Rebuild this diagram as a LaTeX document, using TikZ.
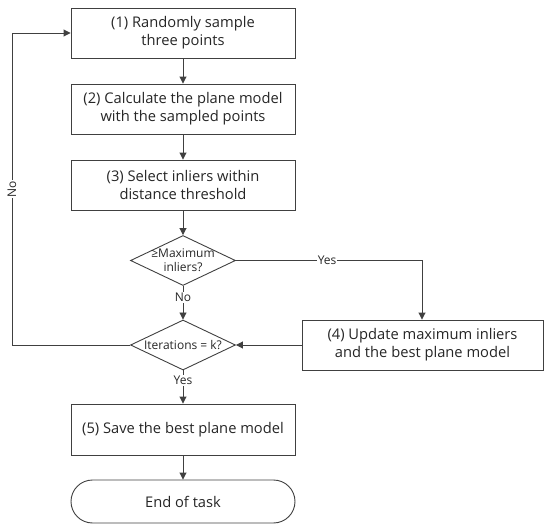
\documentclass[tikz,border=0pt]{standalone}
\usepackage{fontspec}
\setmainfont{Open Sans}
\usetikzlibrary{shapes.geometric,shapes.misc,arrows.meta}
\begin{document}
\begin{tikzpicture}[x=1pt,y=-1pt,
  every node/.style={font=\fontsize{14.7}{18}\selectfont, text=black!85},
  box/.style={draw=black!75, line width=0.9pt, minimum width=224pt, minimum height=50pt, align=center, inner sep=0pt},
  dec/.style={draw=black!75, line width=0.9pt, diamond, aspect=2.1, minimum width=105pt, minimum height=50pt, inner sep=0pt},
  dectext/.style={font=\fontsize{12}{14}\selectfont, align=center, inner sep=0pt},
  term/.style={draw=black!75, line width=0.9pt, rounded rectangle, minimum width=224pt, minimum height=43pt, inner sep=0pt},
  lbl/.style={font=\fontsize{12}{13}\selectfont, fill=white, inner sep=1pt},
  conn/.style={draw=black!75, line width=0.9pt, -{Triangle[length=7pt,width=7pt]}}
]
\useasboundingbox (0,0) rectangle (550,530);
\node[box] (b1) at (183,33) {(1) Randomly sample\\three points};
\node[box] (b2) at (183,109) {(2) Calculate the plane model\\with the sampled points};
\node[box] (b3) at (183,185) {(3) Select inliers within\\distance threshold};
\node[dec] (d1) at (183,260.5) {};
\node[dectext] (d1t) at (d1.center) {≥Maximum\\inliers?};
\node[dec] (d2) at (183,345) {};
\node[dectext] (d2t) at (d2.center) {Iterations = k?};
\node[box, minimum width=241pt] (b4) at (422.5,345) {(4) Update maximum inliers\\and the best plane model};
\node[box, minimum height=51pt] (b5) at (183,429.5) {(5) Save the best plane model};
\node[term] (e) at (183,501.5) {End of task};
\coordinate (c1) at (12,345);
\coordinate (c2) at (12,33);
\coordinate (c3) at (422,260.5);
\draw[conn] (b1) -- (b2);
\draw[conn] (b2) -- (b3);
\draw[conn] (b3) -- (d1);
\draw[conn] (d1) -- node[lbl, pos=0.35] {No} (d2);
\draw[conn] (d1.east) -- node[lbl, pos=0.49] {Yes} (c3) -- (b4.north -| c3);
\draw[conn] (b4) -- (d2);
\draw[conn] (d2) -- node[lbl, pos=0.3] {Yes} (b5);
\draw[conn] (b5) -- (e);
\draw[conn] (d2.west) -- (c1) -- node[lbl, pos=0.5, rotate=90] {No} (c2) -- (b1.west);
\end{tikzpicture}
\end{document}
